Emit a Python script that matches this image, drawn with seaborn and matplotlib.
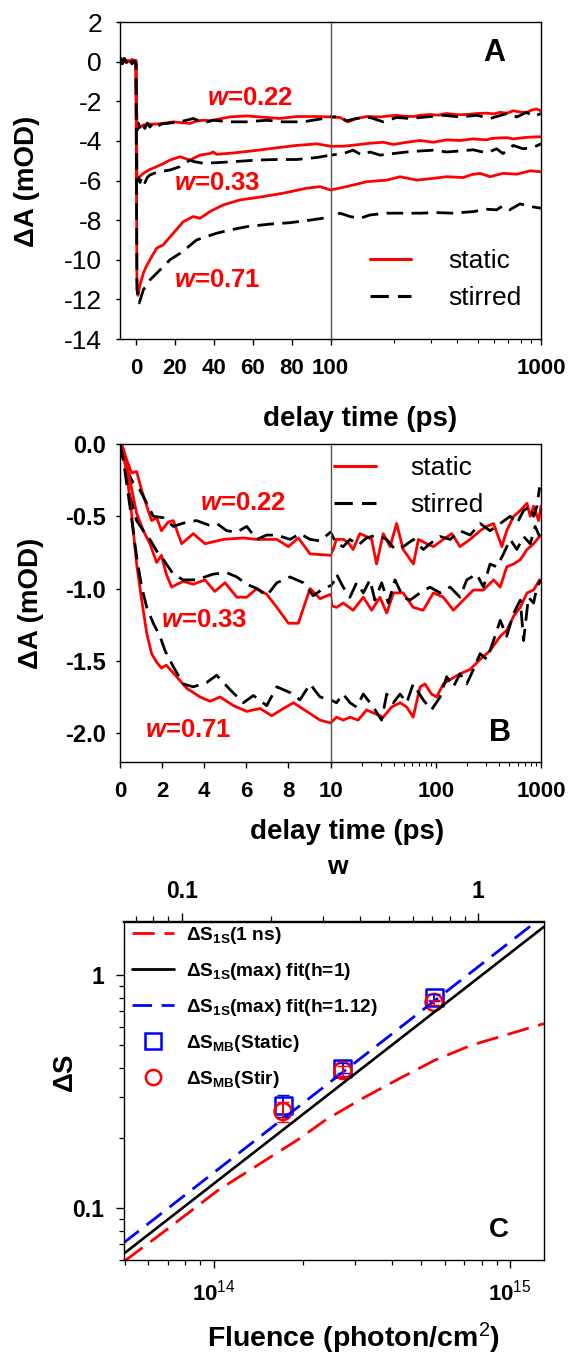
import numpy as np
import pandas as pd
import matplotlib
matplotlib.use("Agg")
import matplotlib.pyplot as plt
import seaborn as sns
from matplotlib.lines import Line2D
from matplotlib.ticker import LogLocator, NullFormatter, FixedLocator, FuncFormatter

# ---------------- data ----------------
# Panel A : (delay ps, dA mOD)
A_static_022 = [(-8, 0.15), (-7, 0.05), (-6, 0.1), (-5, -0.05), (-4, 0.05), (-3, 0.0), (-2, 0.1), (-1, -0.05), (0, 0.05),
                (0.5, -3.4), (2, -3.3), (3.8, -3.2), (7, -3.15), (10.6, -3.15), (15, -3.1), (19.2, -3.04), (23, -3.08),
                (27.8, -3.12), (31, -3.0), (34.6, -2.96), (38, -2.98), (41.5, -2.92), (48.3, -2.79), (56.9, -2.74),
                (62, -2.78), (67.2, -2.82), (74, -2.87), (82.6, -2.77), (92.9, -2.77), (100, -2.79), (111, -2.82),
                (121, -3.04), (133, -2.87), (149, -2.77), (172, -2.79), (190, -2.74), (206, -2.71), (225, -2.76),
                (247, -2.77), (270, -2.7), (297, -2.67), (325, -2.7), (356, -2.62), (400, -2.68), (443, -2.67),
                (495, -2.62), (552, -2.6), (600, -2.64), (637, -2.56), (690, -2.6), (738, -2.48), (800, -2.55),
                (855, -2.56), (900, -2.45), (950, -2.39), (1000, -2.48)]
A_stirred_022 = [(-8, 0.2), (-7, -0.1), (-6, 0.15), (-5, 0.0), (-4, -0.15), (-3, 0.1), (-2, -0.1), (-1, 0.05), (0, -0.1),
                 (0.5, -3.5), (1.2, -3.1), (2.1, -3.4), (3, -3.15), (4.6, -3.37), (5.8, -3.1), (7.2, -3.3), (8.8, -3.12),
                 (10.6, -3.29), (13, -3.15), (15.8, -3.12), (22.6, -3.04), (29.5, -2.87), (34.6, -3.09), (39.7, -2.96),
                 (48.3, -3.04), (56.9, -3.04), (67.2, -2.96), (75.7, -3.04), (86, -3.04), (96.3, -2.87), (100, -2.79),
                 (111, -2.79), (119, -2.99), (133, -2.87), (154, -2.82), (178, -3.04), (206, -2.82), (239, -2.87),
                 (286, -2.79), (343, -2.71), (412, -2.79), (495, -2.71), (573, -2.87), (688, -2.62), (768, -2.79),
                 (855, -2.56), (922, -2.77), (1000, -2.62)]
A_static_033 = [(-8, 0.15), (-7, 0.05), (-6, 0.1), (-5, -0.05), (-4, 0.05), (-3, 0.0), (-2, 0.1), (-1, -0.05), (0, 0.05),
                (0.5, -5.97), (2, -5.8), (3.8, -5.64), (7, -5.45), (10.6, -5.3), (14, -5.15), (17.5, -4.97), (22.6, -4.8),
                (27.8, -4.97), (32.9, -4.72), (38, -4.64), (39.7, -4.56), (41.5, -4.68), (50, -4.61), (62, -4.48),
                (72.3, -4.35), (82.6, -4.23), (92.9, -4.15), (100, -4.27), (115, -4.27), (133, -4.2), (154, -4.12),
                (178, -4.07), (199, -4.18), (230, -4.07), (266, -3.98), (308, -4.07), (356, -3.95), (412, -3.98),
                (476, -3.9), (552, -3.95), (580, -3.88), (637, -3.85), (690, -3.84), (738, -3.9), (855, -3.82),
                (1000, -3.79)]
A_stirred_033 = [(-8, 0.2), (-7, -0.1), (-6, 0.15), (-5, 0.0), (-4, -0.15), (-3, 0.1), (-2, -0.1), (-1, 0.05), (0, -0.1),
                 (0.5, -6.05), (1.2, -5.85), (2.1, -6.1), (3, -5.8), (4.6, -6.11), (5.8, -5.85), (7.2, -5.72), (9, -5.65),
                 (12.3, -5.55), (17.5, -5.47), (22.6, -5.3), (27.8, -4.97), (30, -5.05), (34.6, -5.13), (41.5, -5.1),
                 (50, -5.05), (62, -4.97), (72.3, -4.94), (82.6, -4.94), (92.9, -4.84), (100, -4.72), (115, -4.64),
                 (128, -4.47), (141, -4.72), (154, -4.56), (172, -4.72), (199, -4.64), (230, -4.56), (266, -4.51),
                 (308, -4.47), (356, -4.56), (412, -4.51), (476, -4.45), (552, -4.61), (615, -4.4), (660, -4.64),
                 (738, -4.23), (823, -4.4), (922, -4.32), (1000, -4.15)]
A_static_071 = [(-8, 0.15), (-7, 0.05), (-6, 0.1), (-5, -0.05), (-4, 0.05), (-3, 0.0), (-2, 0.1), (-1, -0.05), (0, 0.05),
                (0.5, -11.0), (1, -11.8), (2, -11.3), (3.8, -10.68), (5, -10.4), (7.2, -10.0), (10.6, -9.42), (14, -9.25),
                (19.2, -8.66), (24.3, -8.08), (29.5, -7.82), (32.9, -7.91), (38, -7.57), (44.9, -7.23), (53.5, -6.98),
                (65.5, -6.81), (75.7, -6.64), (87.7, -6.39), (94.6, -6.31), (100, -6.48), (119, -6.31), (149, -6.06),
                (185, -5.98), (214, -5.81), (257, -5.98), (308, -5.89), (356, -5.81), (427, -5.85), (470, -5.7),
                (514, -5.64), (573, -5.81), (660, -5.64), (768, -5.68), (889, -5.51), (1000, -5.56)]
A_stirred_071 = [(-8, 0.2), (-7, -0.1), (-6, 0.15), (-5, 0.0), (-4, -0.15), (-3, 0.1), (-2, -0.1), (-1, 0.05), (0, -0.1),
                 (0.5, -11.5), (1.7, -12.18), (3.8, -11.52), (7.2, -11.02), (12.3, -10.52), (17.5, -10.0), (22.6, -9.68),
                 (26, -9.42), (31.2, -9.0), (36.3, -8.83), (41.5, -8.66), (48.3, -8.5), (56.9, -8.33), (68.9, -8.2),
                 (79.2, -8.13), (89.5, -8.0), (100, -7.85), (111, -7.65), (124, -7.82), (138, -7.91), (154, -7.74),
                 (185, -7.65), (222, -7.65), (266, -7.65), (319, -7.62), (383, -7.65), (476, -7.57), (552, -7.45),
                 (615, -7.48), (660, -7.28), (710, -7.48), (795, -7.18), (889, -7.31), (1000, -7.4)]

# Panel B : (delay ps, dA mOD)
B_static_022 = [(0, 0.0), (0.08, 0.0), (0.32, -0.11), (0.55, -0.20), (0.79, -0.19), (1.03, -0.32), (1.27, -0.43),
                (1.5, -0.53), (1.74, -0.51), (1.97, -0.60), (2.29, -0.54), (2.53, -0.53), (2.93, -0.69), (3.48, -0.62),
                (4.04, -0.69), (4.91, -0.66), (5.86, -0.65), (6.5, -0.66), (7.45, -0.66), (8.0, -0.71), (8.47, -0.65),
                (9.03, -0.76), (10, -0.77), (10.6, -0.73), (11.4, -0.66), (13.2, -0.66), (14.7, -0.68), (16.4, -0.73),
                (19, -0.62), (22, -0.64), (24.6, -0.66), (27.4, -0.83), (31.7, -0.62), (36.8, -0.71), (42.5, -0.55),
                (49, -0.73), (61.3, -0.83), (68.5, -0.66), (82, -0.69), (95, -0.71), (118, -0.66), (142, -0.62),
                (170, -0.71), (212, -0.66), (264, -0.60), (305, -0.57), (354, -0.55), (425, -0.71), (472, -0.60),
                (550, -0.50), (636, -0.46), (736, -0.41), (790, -0.50), (850, -0.43), (950, -0.53), (1000, -0.43)]
B_stirred_022 = [(0, 0.0), (0.08, -0.02), (0.32, -0.18), (0.63, -0.27), (0.95, -0.32), (1.35, -0.43), (1.58, -0.50),
                 (2.06, -0.51), (2.53, -0.57), (3.17, -0.54), (3.64, -0.53), (4.2, -0.56), (4.6, -0.55), (5.07, -0.60),
                 (5.55, -0.61), (6.02, -0.57), (6.5, -0.66), (6.97, -0.63), (7.45, -0.63), (8.08, -0.66), (8.55, -0.62),
                 (9.03, -0.66), (9.5, -0.67), (10, -0.61), (11.4, -0.69), (13.2, -0.71), (15.3, -0.66), (18.3, -0.70),
                 (22, -0.65), (27.4, -0.63), (34.2, -0.66), (41, -0.73), (49.2, -0.71), (61.3, -0.66), (76.1, -0.73),
                 (88.2, -0.69), (110, -0.64), (137, -0.66), (170, -0.60), (212, -0.63), (264, -0.55), (328, -0.60),
                 (410, -0.55), (510, -0.50), (590, -0.55), (683, -0.46), (790, -0.43), (850, -0.50), (915, -0.43),
                 (970, -0.30)]
B_static_033 = [(0, 0.0), (0.16, -0.04), (0.47, -0.25), (0.79, -0.48), (1.11, -0.60), (1.42, -0.69), (1.74, -0.82),
                (1.97, -0.77), (2.2, -0.90), (2.45, -0.99), (3.0, -0.95), (3.48, -0.97), (4.04, -0.94), (4.5, -1.02),
                (4.99, -0.96), (5.55, -1.06), (6.02, -1.06), (6.5, -1.0), (6.97, -1.04), (7.45, -1.13), (8.0, -1.24),
                (8.47, -1.24), (9.03, -1.0), (9.5, -1.07), (10, -1.04), (10.3, -1.12), (11.4, -1.13), (13.2, -1.10),
                (16.4, -1.15), (20.5, -1.06), (24.6, -1.15), (29.5, -1.06), (34.2, -1.17), (39.6, -1.03), (49, -1.03),
                (61, -1.13), (76, -1.15), (95, -1.03), (118, -1.06), (147, -1.15), (183, -1.08), (228, -1.01),
                (284, -1.01), (354, -0.94), (410, -0.99), (472, -0.85), (550, -0.83), (636, -0.80), (736, -0.73),
                (850, -0.69), (970, -0.64)]
B_stirred_033 = [(0, 0.0), (0.16, -0.11), (0.47, -0.36), (0.79, -0.53), (1.11, -0.60), (1.42, -0.66), (1.74, -0.74),
                 (2.06, -0.80), (2.53, -0.90), (3.0, -0.94), (3.64, -0.94), (4.43, -0.90), (5.07, -0.89), (5.55, -0.92),
                 (6.02, -0.97), (6.5, -1.0), (6.97, -1.05), (7.45, -0.96), (8.08, -0.92), (8.71, -0.96), (9.18, -1.05),
                 (9.66, -1.0), (10, -0.98), (10.6, -0.96), (11.4, -0.90), (13.2, -0.99), (15.3, -1.06), (17.7, -0.96),
                 (20.5, -1.03), (23.7, -0.94), (26.4, -1.08), (30.6, -0.96), (35.4, -1.10), (41, -0.94), (49, -1.06),
                 (57, -1.08), (71, -1.03), (88, -0.99), (110, -1.03), (137, -0.99), (170, -1.06), (197, -0.94),
                 (245, -0.90), (284, -0.99), (328, -0.83), (380, -0.85), (440, -0.76), (510, -0.66), (590, -0.73),
                 (683, -0.64), (790, -0.69), (880, -0.57), (970, -0.64)]
B_static_071 = [(0, 0.0), (0.08, -0.02), (0.32, -0.20), (0.55, -0.48), (0.79, -0.83), (1.03, -1.08), (1.27, -1.31),
                (1.5, -1.45), (1.74, -1.51), (1.97, -1.55), (2.2, -1.53), (2.69, -1.61), (3.17, -1.69), (3.8, -1.75),
                (4.28, -1.78), (4.75, -1.75), (5.39, -1.81), (6.02, -1.85), (6.66, -1.83), (7.21, -1.88), (7.76, -1.83),
                (8.24, -1.79), (8.87, -1.85), (9.5, -1.91), (10, -1.93), (11.4, -1.89), (13.2, -1.91), (15.3, -1.89),
                (18.3, -1.91), (22, -1.84), (25.5, -1.86), (31.7, -1.89), (38, -1.82), (45.8, -1.79), (53, -1.82),
                (61, -1.89), (71, -1.68), (79, -1.66), (91, -1.73), (102, -1.75), (118, -1.66), (137, -1.63),
                (170, -1.59), (212, -1.56), (264, -1.49), (328, -1.43), (410, -1.33), (472, -1.29), (550, -1.19),
                (636, -1.13), (736, -1.03), (850, -1.01), (970, -0.94)]
B_stirred_071 = [(0, 0.0), (0.16, -0.11), (0.47, -0.43), (0.79, -0.78), (1.03, -0.99), (1.27, -1.13), (1.58, -1.24),
                 (1.9, -1.33), (2.14, -1.43), (2.53, -1.54), (3.0, -1.66), (3.48, -1.68), (4.12, -1.65), (4.59, -1.60),
                 (5.23, -1.70), (5.86, -1.79), (6.34, -1.74), (6.97, -1.81), (7.45, -1.68), (8.08, -1.72), (8.55, -1.77),
                 (9.03, -1.66), (9.5, -1.75), (10, -1.77), (11.4, -1.79), (13.2, -1.73), (15.3, -1.79), (17.7, -1.82),
                 (20.5, -1.73), (25.5, -1.82), (30.6, -1.91), (34.2, -1.73), (39.6, -1.79), (45.8, -1.73), (53, -1.79),
                 (61, -1.66), (76, -1.77), (91, -1.84), (110, -1.75), (127, -1.61), (147, -1.68), (170, -1.59),
                 (197, -1.66), (228, -1.56), (264, -1.45), (306, -1.49), (354, -1.36), (410, -1.22), (472, -1.33),
                 (550, -1.17), (636, -1.08), (683, -1.36), (760, -1.06), (850, -1.10), (915, -0.99), (1000, -0.94)]

# Panel C : fluence (photon/cm^2) vs dS
C_1ns_F = [5.0e13, 6.55e13, 1.03e14, 1.91e14, 2.39e14, 3.17e14, 4.22e14, 5.56e14, 7.38e14, 1.30e15]
C_1ns_S = [0.0593, 0.0766, 0.119, 0.196, 0.240, 0.296, 0.360, 0.432, 0.501, 0.621]
C_fit1_F = [4.95e13, 1.30e15]
C_fit1_S = [0.0635, 1.62]
C_fit112_F = [4.95e13, 1.30e15]
C_fit112_S = [0.0708, 1.81]
C_pts_F = [1.71e14, 2.72e14, 5.53e14]
C_static_S = [0.277, 0.40, 0.805]
C_static_err = [0.03, 0.02, 0.03]
C_stir_S = [0.26, 0.39, 0.766]
C_stir_err = [0.025, 0.02, 0.02]
W_PER_FLUENCE = 7.8e14   # fluence at which w = 1 (top axis)

w_labels = ["0.22", "0.33", "0.71"]

# ---------------- style ----------------
sns.set_theme(style="ticks")
plt.rcParams["font.family"] = ["Liberation Sans", "DejaVu Sans"]
plt.rcParams["mathtext.fontset"] = "custom"
plt.rcParams["mathtext.rm"] = "Liberation Sans"
plt.rcParams["mathtext.bf"] = "Liberation Sans:bold"
plt.rcParams["mathtext.it"] = "Liberation Sans:italic:bold"
plt.rcParams["axes.linewidth"] = 1.0
plt.rcParams["axes.edgecolor"] = "black"
plt.rcParams["axes.unicode_minus"] = False
for k in ["text.color", "axes.labelcolor", "xtick.color", "ytick.color"]:
    plt.rcParams[k] = "black"

RED, BLK, BLUE = "#ff0000", "#000000", "#0000ff"
DASH = (0, (6, 3))

W, H = 569, 1354
fig = plt.figure(figsize=(W / 100, H / 100), dpi=100)


def rect(x0, y0, x1, y1):
    return [x0 / W, 1 - y1 / H, (x1 - x0) / W, (y1 - y0) / H]


def fp(x, y):
    return (x / W, 1 - y / H)


def trace(ax, pts, color, dashed, logx=False):
    df = pd.DataFrame(pts, columns=["t", "v"])
    if logx:
        df = df[df["t"] > 0]
    sns.lineplot(data=df, x="t", y="v", ax=ax, color=color, lw=2.0, estimator=None, sort=False,
                 legend=False, linestyle=DASH if dashed else "-")


def bold_ticks(ax, axis="both"):
    labs = []
    if axis in ("x", "both"):
        labs += ax.get_xticklabels()
    if axis in ("y", "both"):
        labs += ax.get_yticklabels()
    for l in labs:
        l.set_fontweight("bold")


def broken_pair(y0, y1):
    a1 = fig.add_axes(rect(120, y0, 330.5, y1))
    a2 = fig.add_axes(rect(330.5, y0, 541, y1), sharey=a1)
    a2.set_xscale("log")
    for a in (a1, a2):
        a.set_facecolor("none")
    a1.spines["right"].set_visible(False)
    a2.spines["left"].set_color("#555555")
    a2.tick_params(axis="y", left=False, labelleft=False)
    a2.xaxis.set_minor_locator(LogLocator(base=10, subs=np.arange(2, 10)))
    a2.xaxis.set_minor_formatter(NullFormatter())
    return a1, a2


# ---------------- Panel A ----------------
axA1, axA2 = broken_pair(22, 339)
for pts, c, d in [(A_static_022, RED, False), (A_stirred_022, BLK, True),
                  (A_static_033, RED, False), (A_stirred_033, BLK, True),
                  (A_static_071, RED, False), (A_stirred_071, BLK, True)]:
    trace(axA1, pts, c, d)
    trace(axA2, pts, c, d, logx=True)
axA1.set_xlim(-8.2, 100)
axA1.set_ylim(-14, 2)
axA1.set_xticks([0, 20, 40, 60, 80, 100])
axA1.set_yticks(list(range(-14, 3, 2)))
axA2.set_xlim(100, 1000)
axA2.set_xticks([1000])
axA2.set_xticklabels(["1000"])
for a in (axA1, axA2):
    a.set_xlabel("")
    a.set_ylabel("")
    a.tick_params(axis="x", which="major", direction="out", length=4, width=1, labelsize=16, pad=10)
    a.tick_params(axis="x", which="minor", direction="out", length=3, width=0.8)
axA1.tick_params(axis="y", direction="out", length=3, width=1, labelsize=19, pad=10)
bold_ticks(axA1, "x")
bold_ticks(axA2, "x")

fig.text(*fp(27, 181), "ΔA (mOD)", rotation=90, ha="center", va="center", fontsize=20, fontweight="bold")
fig.text(*fp(360, 419), "delay time (ps)", ha="center", va="center", fontsize=20, fontweight="bold")
for lab, (x, y) in zip(w_labels, [(207, 98), (174, 183), (174, 280)]):
    fig.text(*fp(x, y), r"$\mathit{w}$=" + lab, ha="left", va="center", fontsize=18.5,
             fontweight="bold", color=RED)
fig.text(*fp(494, 53), "A", ha="center", va="center", fontsize=22, fontweight="bold")
legA = [Line2D([], [], color=RED, lw=2.2), Line2D([], [], color=BLK, lw=2.2, linestyle=DASH)]
fig.legend(legA, ["static", "stirred"], loc="upper left", bbox_to_anchor=fp(370, 249), frameon=False,
           fontsize=19, handlelength=1.55, handletextpad=1.4, labelspacing=0.5, borderpad=0, borderaxespad=0)

# ---------------- Panel B ----------------
axB1, axB2 = broken_pair(444, 762)
for pts, c, d in [(B_static_022, RED, False), (B_stirred_022, BLK, True),
                  (B_static_033, RED, False), (B_stirred_033, BLK, True),
                  (B_static_071, RED, False), (B_stirred_071, BLK, True)]:
    trace(axB1, pts, c, d)
    trace(axB2, pts, c, d, logx=True)
axB1.set_xlim(0, 10)
axB1.set_ylim(-2.2, 0.0)
axB1.set_xticks([0, 2, 4, 6, 8, 10])
axB1.set_yticks([-2.0, -1.5, -1.0, -0.5, 0.0])
axB1.set_yticklabels(["-2.0", "-1.5", "-1.0", "-0.5", "0.0"])
axB2.set_xlim(10, 1000)
axB2.set_xticks([100, 1000])
axB2.set_xticklabels(["100", "1000"])
for a in (axB1, axB2):
    a.set_xlabel("")
    a.set_ylabel("")
    a.tick_params(axis="x", which="major", direction="out", length=4, width=1, labelsize=16, pad=10)
    a.tick_params(axis="x", which="minor", direction="out", length=3, width=0.8)
axB1.tick_params(axis="y", direction="out", length=3, width=1, labelsize=17, pad=7)
bold_ticks(axB1)
bold_ticks(axB2, "x")

fig.text(*fp(31, 603), "ΔA (mOD)", rotation=90, ha="center", va="center", fontsize=20, fontweight="bold")
fig.text(*fp(347, 832), "delay time (ps)", ha="center", va="center", fontsize=20, fontweight="bold")
for lab, (x, y) in zip(w_labels, [(200, 503), (161, 620), (145, 730)]):
    fig.text(*fp(x, y), r"$\mathit{w}$=" + lab, ha="left", va="center", fontsize=18.5,
             fontweight="bold", color=RED)
fig.text(*fp(500, 733), "B", ha="center", va="center", fontsize=22, fontweight="bold")
legB = [Line2D([], [], color=RED, lw=2.2), Line2D([], [], color=BLK, lw=2.2, linestyle=DASH)]
fig.legend(legB, ["static", "stirred"], loc="upper left", bbox_to_anchor=fp(334, 456), frameon=False,
           fontsize=19, handlelength=1.6, handletextpad=1.3, labelspacing=0.5, borderpad=0, borderaxespad=0)

# ---------------- Panel C ----------------
axC = fig.add_axes(rect(123.5, 921.5, 544, 1260))
axC.set_xscale("log")
axC.set_yscale("log")
sns.lineplot(x=C_1ns_F, y=C_1ns_S, ax=axC, color=RED, lw=2.0, linestyle=(0, (8, 3.5)), estimator=None, sort=False)
sns.lineplot(x=C_fit1_F, y=C_fit1_S, ax=axC, color=BLK, lw=1.9, estimator=None, sort=False)
sns.lineplot(x=C_fit112_F, y=C_fit112_S, ax=axC, color=BLUE, lw=2.0, linestyle=(0, (7, 3.5)), estimator=None, sort=False)
axC.errorbar(C_pts_F, C_static_S, yerr=C_static_err, fmt="none", ecolor=BLUE, elinewidth=1.3, capsize=4)
sns.scatterplot(x=C_pts_F, y=C_static_S, ax=axC, marker="s", s=150, facecolor="none", edgecolor=BLUE, linewidth=1.8)
axC.errorbar(C_pts_F, C_stir_S, yerr=C_stir_err, fmt="none", ecolor=RED, elinewidth=1.3, capsize=4)
sns.scatterplot(x=C_pts_F, y=C_stir_S, ax=axC, marker="o", s=150, facecolor="none", edgecolor=RED, linewidth=1.8)
axC.set_xlim(4.95e13, 1.30e15)
axC.set_ylim(0.0598, 1.706)
axC.set_xlabel("")
axC.set_ylabel("")
axC.xaxis.set_major_locator(FixedLocator([1e14, 1e15]))
axC.xaxis.set_major_formatter(FuncFormatter(lambda v, p: r"$\mathbf{10}^{\mathrm{%d}}$" % round(np.log10(v))))
axC.xaxis.set_minor_locator(LogLocator(base=10, subs=np.arange(2, 10)))
axC.xaxis.set_minor_formatter(NullFormatter())
axC.yaxis.set_major_locator(FixedLocator([0.1, 1]))
axC.yaxis.set_major_formatter(FuncFormatter(lambda v, p: "1" if v >= 1 else "0.1"))
axC.yaxis.set_minor_locator(LogLocator(base=10, subs=np.arange(2, 10)))
axC.yaxis.set_minor_formatter(NullFormatter())
axC.tick_params(axis="both", which="major", direction="out", length=6, width=1)
axC.tick_params(axis="both", which="minor", direction="out", length=3.5, width=0.9)
axC.tick_params(axis="x", which="major", labelsize=16, pad=8)
axC.tick_params(axis="y", which="major", labelsize=16.5, pad=8)
for l in axC.get_yticklabels():
    l.set_fontweight("bold")

sec = axC.secondary_xaxis("top", functions=(lambda F: F / W_PER_FLUENCE, lambda w: w * W_PER_FLUENCE))
sec.xaxis.set_major_locator(FixedLocator([0.1, 1]))
sec.xaxis.set_major_formatter(FuncFormatter(lambda v, p: "1" if v >= 1 else "0.1"))
sec.xaxis.set_minor_locator(LogLocator(base=10, subs=np.arange(2, 10)))
sec.xaxis.set_minor_formatter(NullFormatter())
sec.tick_params(axis="x", which="major", direction="out", length=6, width=1, labelsize=16.5, pad=7)
sec.tick_params(axis="x", which="minor", direction="out", length=3.5, width=0.9)
for l in sec.get_xticklabels():
    l.set_fontweight("bold")

fig.text(*fp(65, 1072), "ΔS", rotation=90, ha="center", va="center", fontsize=20, fontweight="bold")
fig.text(*fp(337, 867), "w", ha="center", va="center", fontsize=19, fontweight="bold")
fig.text(*fp(353, 1338), r"Fluence (photon/cm$^{\mathrm{2}}$)", ha="center", va="center", fontsize=20.5,
         fontweight="bold")
fig.text(*fp(499, 1230), "C", ha="center", va="center", fontsize=20, fontweight="bold")

legC_h = [Line2D([], [], color=RED, lw=2.0, linestyle=(0, (8, 3.5))),
          Line2D([], [], color=BLK, lw=2.0),
          Line2D([], [], color=BLUE, lw=2.0, linestyle=(0, (7, 3.5))),
          Line2D([], [], ls="none", marker="s", ms=11, mfc="none", mec=BLUE, mew=1.8),
          Line2D([], [], ls="none", marker="o", ms=11, mfc="none", mec=RED, mew=1.8)]
legC_l = [r"ΔS$_{\mathbf{1S}}$(1 ns)", r"ΔS$_{\mathbf{1S}}$(max) fit(h=1)", r"ΔS$_{\mathbf{1S}}$(max) fit(h=1.12)",
          r"ΔS$_{\mathbf{MB}}$(Static)", r"ΔS$_{\mathbf{MB}}$(Stir)"]
fig.legend(legC_h, legC_l, loc="upper left", bbox_to_anchor=fp(132, 925), frameon=False,
           prop={"size": 13.8, "weight": "bold"}, handlelength=2.2, handletextpad=0.6, labelspacing=0.78,
           borderpad=0, borderaxespad=0)

fig.savefig("out.png", dpi=100)
